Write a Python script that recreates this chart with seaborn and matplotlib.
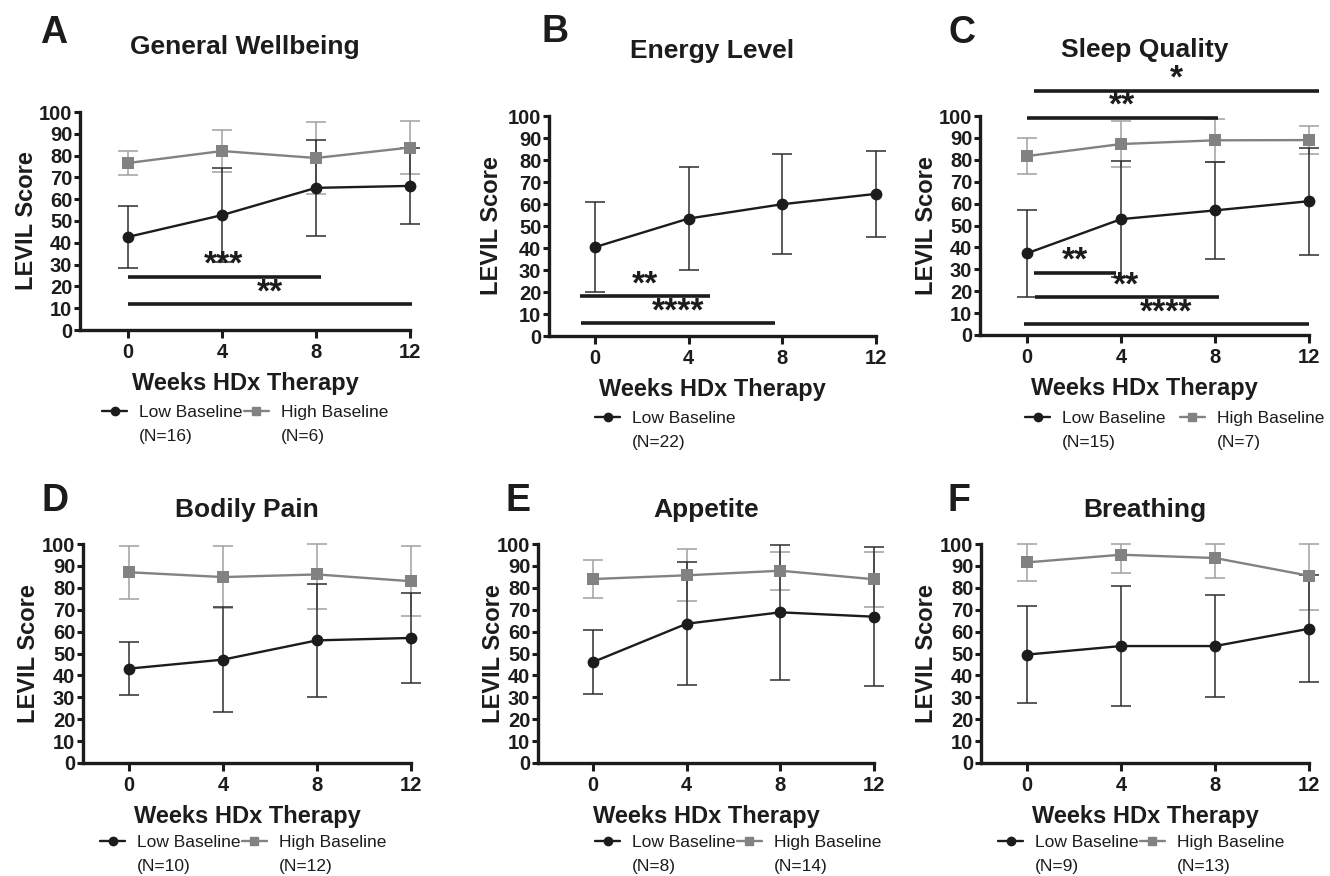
import matplotlib
matplotlib.use("Agg")
import numpy as np
import pandas as pd
import matplotlib.pyplot as plt
from matplotlib.lines import Line2D
import seaborn as sns

# --- data (mean +/- SD of LEVIL score) ---
weeks = [0, 4, 8, 12]
titles = ["General Wellbeing", "Energy Level", "Sleep Quality",
          "Bodily Pain", "Appetite", "Breathing"]
letters = ["A", "B", "C", "D", "E", "F"]

low_mean = [[42.7, 52.7, 65.2, 66.1],
            [40.4, 53.4, 59.9, 64.6],
            [37.3, 52.9, 56.9, 61.1],
            [43.1, 47.2, 56.0, 57.1],
            [46.1, 63.6, 68.8, 66.8],
            [49.5, 53.4, 53.4, 61.3]]
low_sd = [[14.2, 21.5, 21.9, 17.6],
          [20.4, 23.4, 22.8, 19.6],
          [20.0, 26.4, 22.2, 24.4],
          [12.2, 24.0, 25.8, 20.6],
          [14.7, 28.1, 30.7, 31.7],
          [22.1, 27.2, 23.4, 24.5]]
high_mean = [[76.6, 82.1, 78.9, 83.7],
             None,
             [81.7, 87.2, 88.9, 89.0],
             [87.1, 84.9, 86.1, 83.0],
             [84.0, 85.7, 87.8, 83.9],
             [91.6, 95.1, 93.6, 85.5]]
high_sd = [[5.5, 9.8, 16.5, 12.2],
           None,
           [8.2, 10.4, 9.8, 6.3],
           [12.1, 14.0, 15.6, 16.0],
           [8.7, 11.8, 8.6, 12.5],
           [8.6, 8.3, 9.1, 15.8]]
n_low = [16, 22, 15, 10, 8, 9]
n_high = [6, None, 7, 12, 14, 13]

# significance brackets: (x start, x end, y, star x, stars)
sig_wellbeing = [(0, 8.2, 24.5, 4.07, "***"), (0, 12.1, 11.8, 6.04, "**")]
sig_energy = [(-0.66, 4.93, 18.2, 2.15, "**"), (-0.61, 7.7, 5.9, 3.55, "****")]
sig_sleep = [(0.3, 12.42, 111.6, 6.34, "*"), (0, 8.13, 99.2, 4.06, "**"),
             (0.31, 3.77, 28.4, 2.03, "**"), (0.34, 8.16, 17.4, 4.23, "**"),
             (-0.14, 12, 5.0, 5.93, "****")]
sigs = [sig_wellbeing, sig_energy, sig_sleep, [], [], []]

LOW_C = "#1c1c1c"
LOW_ERR = "#2e2e2e"
HIGH_C = "#828282"
HIGH_ERR = "#a0a0a0"

sns.set_style("ticks")
plt.rcParams["font.family"] = ["Liberation Sans", "DejaVu Sans"]

FIG_W, FIG_H = 1330, 876
fig = plt.figure(figsize=(FIG_W / 100, FIG_H / 100), dpi=100)

# layout in pixels: spine x, x=0 px, x=12 px, top, bottom, ylabel gap, title baseline
layout = [(80, 128, 410, 112, 330, 42, 54),
          (549, 595, 876, 116, 336, 46, 58),
          (980, 1027, 1309, 116, 335, 42, 57),
          (83, 129, 411, 544, 763, 43, 517),
          (538, 593, 874, 544, 763, 33, 517),
          (981, 1027, 1309, 544, 763, 43, 517)]
letter_pos = [(40, 43), (542, 42), (948, 43), (42, 511), (505, 511), (948, 511)]
legend_pos = [(102, 412, 0.05), (595, 418, 0.05), (1025, 418, 0.8),
              (100, 842, 0.05), (595, 842, 0.05), (998, 842, 0.05)]

STAR_FS = 24
legends = []
for i in range(6):
    left, x0px, right, top, bottom, ylgap, tbase = layout[i]
    w, h = right - left, bottom - top
    ax = fig.add_axes([left / FIG_W, 1 - bottom / FIG_H, w / FIG_W, h / FIG_H])

    rows = []
    groups = [("Low", low_mean[i], low_sd[i], LOW_ERR)]
    if high_mean[i] is not None:
        groups.insert(0, ("High", high_mean[i], high_sd[i], HIGH_ERR))
    for g, m, sd, ec in groups:
        m = np.asarray(m)
        sd = np.asarray(sd)
        # bars stop at the top of the axis, as in the original
        yerr = [sd, np.minimum(sd, 100 - m)]
        ax.errorbar(weeks, m, yerr=yerr, fmt="none", ecolor=ec, elinewidth=1.1,
                    capsize=7, capthick=1.1, zorder=2)
        rows += [{"week": wk, "score": v, "group": g} for wk, v in zip(weeks, m)]
    df = pd.DataFrame(rows)
    sns.lineplot(data=df, x="week", y="score", hue="group", style="group",
                 markers={"Low": "o", "High": "s"}, dashes=False,
                 palette={"Low": LOW_C, "High": HIGH_C}, errorbar=None,
                 legend=False, linewidth=1.7, markersize=8.5,
                 markeredgewidth=0, ax=ax, zorder=3)
    for art in ax.lines + ax.collections:
        art.set_clip_on(False)

    for xa, xb, y, xt, stars in sigs[i]:
        ax.plot([xa, xb], [y, y], color=LOW_C, lw=2.6, solid_capstyle="butt",
                clip_on=False, zorder=4)
        ax.annotate(stars, (xt, y), xytext=(0, 2.0),
                    textcoords="offset points", ha="center", va="baseline",
                    fontsize=STAR_FS, fontweight="bold", color=LOW_C,
                    annotation_clip=False)

    xmin = -12 * (x0px - left) / (right - x0px)
    ax.set_xlim(xmin, 12)
    ax.set_ylim(0, 100)
    ax.set_xticks(weeks, labels=[str(v) for v in weeks], fontweight="bold")
    ax.set_yticks(range(0, 101, 10), labels=[str(v) for v in range(0, 101, 10)],
                  fontweight="bold")
    ax.tick_params(axis="both", width=2.2, labelsize=14.5, color=LOW_C,
                   labelcolor=LOW_C)
    ax.tick_params(axis="x", length=6, pad=3.5)
    ax.tick_params(axis="y", length=4, pad=1.5)
    sns.despine(ax=ax)
    for s in ("left", "bottom"):
        ax.spines[s].set_linewidth(2.4)
        ax.spines[s].set_color(LOW_C)

    ax.set_ylabel("LEVIL Score", fontsize=17, fontweight="bold", color=LOW_C)
    ax.yaxis.set_label_coords(-ylgap / w, 0.5)
    ax.set_xlabel("Weeks HDx Therapy", fontsize=17, fontweight="bold", color=LOW_C)
    ax.xaxis.set_label_coords(0.5, -60 / h)
    ax.xaxis.label.set_va("baseline")
    ax.text(0.5, 1 + (top - tbase) / h, titles[i], transform=ax.transAxes,
            ha="center", va="baseline", fontsize=19, fontweight="bold",
            color=LOW_C)

    lx, ly, cs = legend_pos[i]
    handles = [Line2D([], [], color=LOW_C, marker="o", markersize=6, lw=1.7)]
    labels = ["Low Baseline"]
    ns = [n_low[i]]
    if high_mean[i] is not None:
        handles.append(Line2D([], [], color=HIGH_C, marker="s", markersize=5.5, lw=1.7))
        labels.append("High Baseline")
        ns.append(n_high[i])
    leg = ax.legend(handles, labels, loc="center left",
                    bbox_to_anchor=(lx / FIG_W, 1 - ly / FIG_H),
                    bbox_transform=fig.transFigure, ncol=2, frameon=False,
                    fontsize=12.5, handlelength=1.45, handletextpad=0.7,
                    columnspacing=cs, borderpad=0, borderaxespad=0)
    for t in leg.get_texts():
        t.set_color(LOW_C)
    legends.append((leg, ns))

for (lx, ly), letter in zip(letter_pos, letters):
    fig.text(lx / FIG_W, 1 - ly / FIG_H, letter, fontsize=27, fontweight="bold",
             va="baseline", ha="left", color=LOW_C)

# second line of each legend entry
fig.canvas.draw()
renderer = fig.canvas.get_renderer()
for leg, ns in legends:
    for t, n in zip(leg.get_texts(), ns):
        bb = t.get_window_extent(renderer)
        fig.text(bb.x0 / FIG_W, ((bb.y0 + bb.y1) / 2 - 24) / FIG_H, f"(N={n})",
                 va="center", ha="left", fontsize=12.5, color=LOW_C)

fig.savefig("out.png", dpi=100)
